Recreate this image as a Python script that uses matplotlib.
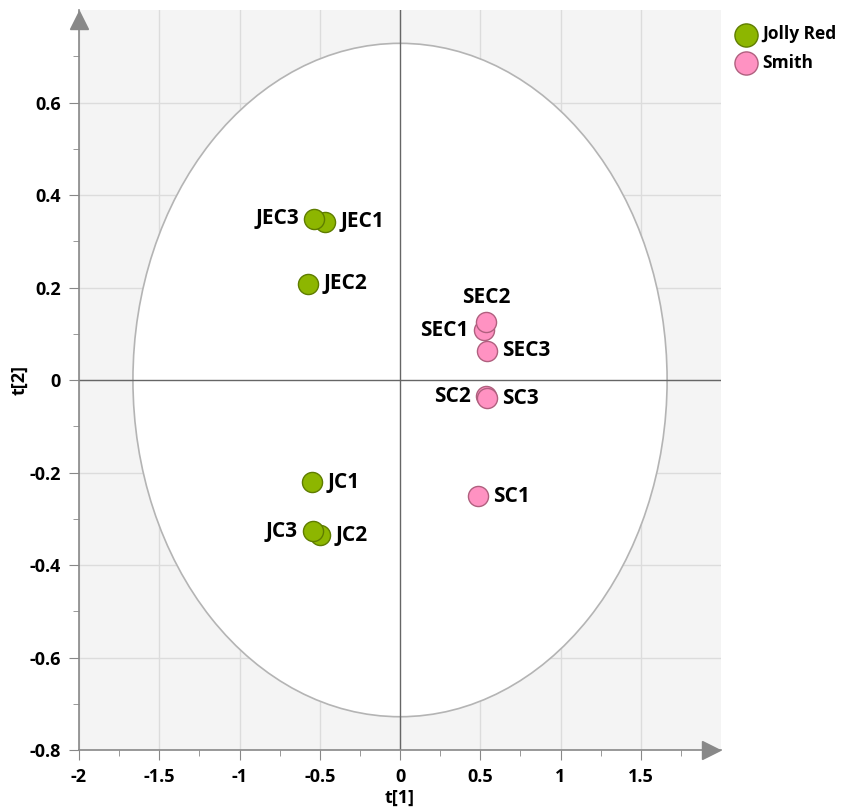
import matplotlib.pyplot as plt
from matplotlib.patches import Ellipse
import numpy as np

plt.rcParams['font.family'] = ['Open Sans', 'DejaVu Sans']

names = ['JEC1', 'JEC2', 'JEC3', 'JC1', 'JC2', 'JC3',
         'SEC1', 'SEC2', 'SEC3', 'SC1', 'SC2', 'SC3']
group = ['Jolly Red'] * 6 + ['Smith'] * 6
t1 = [-0.467, -0.573, -0.536, -0.548, -0.498, -0.542,
      0.523, 0.536, 0.542, 0.486, 0.536, 0.542]
t2 = [0.342, 0.208, 0.349, -0.221, -0.336, -0.327,
      0.108, 0.126, 0.063, -0.251, -0.035, -0.039]
# label side: r = right, l = left, t = top
side = ['r', 'r', 'l', 'r', 'r', 'l', 'l', 't', 'r', 'r', 'l', 'r']

colors = {'Jolly Red': ('#8db600', '#5f7d00'), 'Smith': ('#ff92c2', '#b0607f')}

fig = plt.figure(figsize=(8.45, 8.09), dpi=100)
ax = fig.add_axes([0.0935, 0.0729, 0.7598, 0.9147])
ax.set_facecolor('#f4f4f4')
ax.set_xlim(-2, 2)
ax.set_ylim(-0.8, 0.8)

ax.set_xticks(np.arange(-2, 2.0, 0.5))
ax.set_xticks(np.arange(-2, 2.0, 0.25), minor=True)
ax.set_yticks(np.arange(-0.8, 0.61, 0.2))
ax.set_yticks(np.arange(-0.8, 0.8, 0.1), minor=True)
ax.set_xticklabels(['-2', '-1.5', '-1', '-0.5', '0', '0.5', '1', '1.5'])
ax.set_yticklabels(['-0.8', '-0.6', '-0.4', '-0.2', '0', '0.2', '0.4', '0.6'])
ax.grid(True, which='major', color='#dcdcdc', lw=1)
ax.set_axisbelow(True)

for s in ['top', 'right']:
    ax.spines[s].set_visible(False)
for s in ['left', 'bottom']:
    ax.spines[s].set_color('#888888')
    ax.spines[s].set_linewidth(1.2)
ax.tick_params(which='both', direction='out', color='#888888')
ax.tick_params(which='major', length=7, labelsize=13, pad=6)
ax.tick_params(which='minor', length=4)
for lab in ax.get_xticklabels() + ax.get_yticklabels():
    lab.set_fontweight('bold')

# arrow heads at the ends of the axes
ax.plot(0.985, 0, '>', color='#888888', ms=13, transform=ax.transAxes, clip_on=False)
ax.plot(0, 0.986, '^', color='#888888', ms=13, transform=ax.transAxes, clip_on=False)

ax.add_patch(Ellipse((0, 0), 2 * 1.664, 2 * 0.728, facecolor='white',
                     edgecolor='#b4b4b4', lw=1.2, zorder=1))
ax.axhline(0, color='#666666', lw=1, zorder=2)
ax.axvline(0, color='#666666', lw=1, zorder=2)

for g in ['Jolly Red', 'Smith']:
    idx = [i for i in range(len(names)) if group[i] == g]
    fc, ec = colors[g]
    ax.scatter([t1[i] for i in idx], [t2[i] for i in idx], s=210, color=fc,
               edgecolors=ec, linewidths=1, zorder=3, label=g)

offs = {'r': ((11, 0), 'left', 'center'), 'l': ((-11, 0), 'right', 'center'),
        't': ((0, 10), 'center', 'bottom')}
for i, n in enumerate(names):
    off, ha, va = offs[side[i]]
    ax.annotate(n, (t1[i], t2[i]), xytext=off, textcoords='offset points',
                ha=ha, va=va, fontsize=15, fontweight='bold', zorder=4)

ax.set_xlabel('t[1]', fontsize=13, fontweight='bold', labelpad=2)
ax.set_ylabel('t[2]', fontsize=13, fontweight='bold', labelpad=1)

leg = ax.legend(loc='upper left', bbox_to_anchor=(1.018, 0.984), frameon=False,
                handletextpad=0.3, handlelength=1.2, borderaxespad=0.0,
                borderpad=0.2, labelspacing=0.6,
                prop={'weight': 'bold', 'size': 12.5}, markerscale=1.15)

fig.savefig('out.png', dpi=100)
